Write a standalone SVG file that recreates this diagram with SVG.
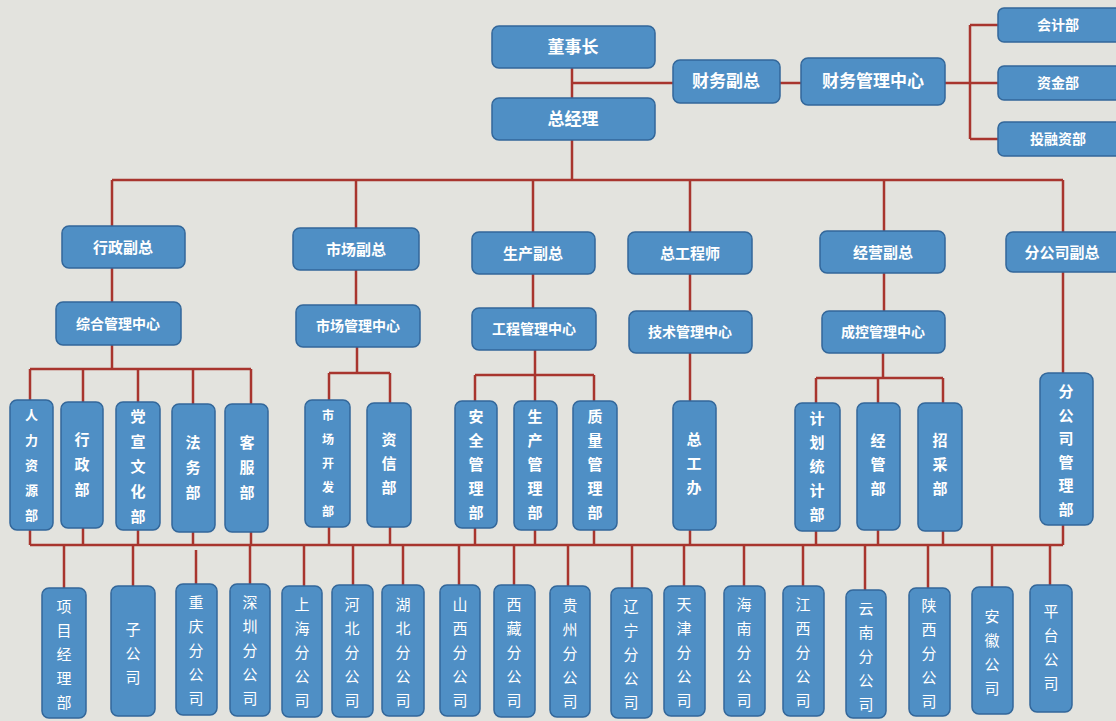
<svg xmlns="http://www.w3.org/2000/svg" width="1116" height="721" viewBox="0 0 1116 721">
<style>
.b{fill:#4f8fc5;stroke:#33679a;stroke-width:1.5}
.t{fill:#ffffff;font-family:"Noto Sans CJK SC","Noto Sans",sans-serif;font-weight:bold;text-anchor:middle}
.h{font-size:17px}
.m{font-size:15px}
.s{font-size:14px}
.v{font-size:13px}
.w{font-size:15px;font-weight:normal}
.c{fill:none;stroke:#a8352e;stroke-width:2.5}
</style>
<rect width="1116" height="721" fill="#e3e3de"/>
<g id="connectors" class="c">
<path d="M572 68V98M572 140V180M572 83H673M780 83H801M945 83H970M970 25V139M970 25H998M970 83H998M970 139H998"/>
<path d="M112 180H1063M112 180V226M356 180V228M533 180V232M690 180V232M884 180V231M1063 180V232"/>
<path d="M112 268V302M356 270V305M533 274V308M690 274V311M884 273V311M1063 272V373"/>
<path d="M112 345V369M30 369H251M30 369V400M83 369V402M138 369V402M193 369V404M251 369V404"/>
<path d="M357 347V373M329 373H390M329 373V400M390 373V403"/>
<path d="M535 350V375M475 375H594M475 375V401M535 375V401M594 375V401"/>
<path d="M690 353V401"/>
<path d="M883 353V378M816 378H943M816 378V403M878 378V403M943 378V403"/>
<path d="M30 545H1063M30 530V545M83 528V545M138 530V545M193 532V545M251 532V545M329 527V545M390 527V545M475 528V545M535 530V545M594 530V545M690 530V545M816 531V545M878 530V545M943 531V545M1063 525V545"/>
<path d="M64 545V588M133 545V586M196 550V584M250 545V584M304 545V586M353 545V585M403 545V585M459 545V585M514 545V585M568 545V586M632 545V588M684 545V586M744 545V586M803 545V586M865 545V590M928 545V588M992 545V587M1050 545V585"/>
</g>
<g id="dongshizhang"><rect class="b" x="492" y="26" width="163" height="42" rx="7"/><text class="t h" x="573" y="53">董事长</text></g>
<g id="zongjingli"><rect class="b" x="492" y="98" width="163" height="42" rx="7"/><text class="t h" x="573" y="125">总经理</text></g>
<g id="caiwufuzong"><rect class="b" x="673" y="60" width="107" height="43" rx="7"/><text class="t h" x="726" y="87">财务副总</text></g>
<g id="caiwuguanli"><rect class="b" x="801" y="58" width="144" height="47" rx="7"/><text class="t h" x="873" y="87">财务管理中心</text></g>
<g id="kuaiji"><rect class="b" x="998" y="8" width="125" height="34" rx="6"/><text class="t s" x="1058" y="30">会计部</text></g>
<g id="zijin"><rect class="b" x="998" y="66" width="125" height="34" rx="6"/><text class="t s" x="1058" y="88">资金部</text></g>
<g id="tourongzi"><rect class="b" x="998" y="122" width="125" height="34" rx="6"/><text class="t s" x="1058" y="144">投融资部</text></g>

<g id="xingzhengfuzong"><rect class="b" x="62" y="226" width="123" height="42" rx="7"/><text class="t m" x="123" y="253">行政副总</text></g>
<g id="shichangfuzong"><rect class="b" x="293" y="228" width="126" height="42" rx="7"/><text class="t m" x="356" y="255">市场副总</text></g>
<g id="shengchanfuzong"><rect class="b" x="472" y="232" width="123" height="42" rx="7"/><text class="t m" x="533" y="259">生产副总</text></g>
<g id="zonggongchengshi"><rect class="b" x="628" y="232" width="124" height="42" rx="7"/><text class="t m" x="690" y="259">总工程师</text></g>
<g id="jingyingfuzong"><rect class="b" x="820" y="231" width="125" height="42" rx="7"/><text class="t m" x="883" y="258">经营副总</text></g>
<g id="fengongsifuzong"><rect class="b" x="1006" y="232" width="118" height="40" rx="7"/><text class="t m" x="1062" y="258">分公司副总</text></g>

<g id="zonghe"><rect class="b" x="56" y="302" width="125" height="43" rx="7"/><text class="t s" x="118" y="329">综合管理中心</text></g>
<g id="shichangguanli"><rect class="b" x="296" y="305" width="124" height="42" rx="7"/><text class="t s" x="358" y="331">市场管理中心</text></g>
<g id="gongcheng"><rect class="b" x="472" y="308" width="124" height="42" rx="7"/><text class="t s" x="534" y="334">工程管理中心</text></g>
<g id="jishu"><rect class="b" x="629" y="311" width="123" height="42" rx="7"/><text class="t s" x="690" y="337">技术管理中心</text></g>
<g id="chengkong"><rect class="b" x="822" y="311" width="123" height="42" rx="7"/><text class="t s" x="883" y="337">成控管理中心</text></g>

<g id="renli"><rect class="b" x="10" y="400" width="43" height="130" rx="7"/><text class="t v" x="31.5" y="420"><tspan x="31.5" dy="0">人</tspan><tspan x="31.5" dy="25">力</tspan><tspan x="31.5" dy="25">资</tspan><tspan x="31.5" dy="25">源</tspan><tspan x="31.5" dy="25">部</tspan></text></g>
<g id="xingzhengbu"><rect class="b" x="61" y="402" width="42" height="126" rx="7"/><text class="t m" x="82" y="445"><tspan x="82" dy="0">行</tspan><tspan x="82" dy="25">政</tspan><tspan x="82" dy="25">部</tspan></text></g>
<g id="dangxuan"><rect class="b" x="116" y="402" width="44" height="128" rx="7"/><text class="t m" x="138" y="422"><tspan x="138" dy="0">党</tspan><tspan x="138" dy="25">宣</tspan><tspan x="138" dy="25">文</tspan><tspan x="138" dy="25">化</tspan><tspan x="138" dy="25">部</tspan></text></g>
<g id="fawu"><rect class="b" x="172" y="404" width="43" height="128" rx="7"/><text class="t m" x="193" y="448"><tspan x="193" dy="0">法</tspan><tspan x="193" dy="25">务</tspan><tspan x="193" dy="25">部</tspan></text></g>
<g id="kefu"><rect class="b" x="225" y="404" width="43" height="128" rx="7"/><text class="t m" x="247" y="448"><tspan x="247" dy="0">客</tspan><tspan x="247" dy="25">服</tspan><tspan x="247" dy="25">部</tspan></text></g>

<g id="shichangkaifa"><rect class="b" x="305" y="400" width="45" height="127" rx="7"/><text class="t" style="font-size:12px" x="328" y="420"><tspan x="328" dy="0">市</tspan><tspan x="328" dy="24">场</tspan><tspan x="328" dy="24">开</tspan><tspan x="328" dy="24">发</tspan><tspan x="328" dy="24">部</tspan></text></g>
<g id="zixin"><rect class="b" x="367" y="403" width="44" height="124" rx="7"/><text class="t m" x="389" y="445"><tspan x="389" dy="0">资</tspan><tspan x="389" dy="24">信</tspan><tspan x="389" dy="24">部</tspan></text></g>

<g id="anquan"><rect class="b" x="455" y="401" width="42" height="127" rx="7"/><text class="t m" x="476" y="422"><tspan x="476" dy="0">安</tspan><tspan x="476" dy="24">全</tspan><tspan x="476" dy="24">管</tspan><tspan x="476" dy="24">理</tspan><tspan x="476" dy="24">部</tspan></text></g>
<g id="shengchanguanli"><rect class="b" x="514" y="401" width="43" height="129" rx="7"/><text class="t m" x="535" y="422"><tspan x="535" dy="0">生</tspan><tspan x="535" dy="24">产</tspan><tspan x="535" dy="24">管</tspan><tspan x="535" dy="24">理</tspan><tspan x="535" dy="24">部</tspan></text></g>
<g id="zhiliang"><rect class="b" x="573" y="401" width="44" height="129" rx="7"/><text class="t m" x="595" y="422"><tspan x="595" dy="0">质</tspan><tspan x="595" dy="24">量</tspan><tspan x="595" dy="24">管</tspan><tspan x="595" dy="24">理</tspan><tspan x="595" dy="24">部</tspan></text></g>

<g id="zonggongban"><rect class="b" x="673" y="401" width="43" height="129" rx="7"/><text class="t m" x="694" y="445"><tspan x="694" dy="0">总</tspan><tspan x="694" dy="24">工</tspan><tspan x="694" dy="24">办</tspan></text></g>

<g id="jihuatongji"><rect class="b" x="795" y="403" width="45" height="128" rx="7"/><text class="t m" x="817" y="424"><tspan x="817" dy="0">计</tspan><tspan x="817" dy="24">划</tspan><tspan x="817" dy="24">统</tspan><tspan x="817" dy="24">计</tspan><tspan x="817" dy="24">部</tspan></text></g>
<g id="jingguan"><rect class="b" x="857" y="403" width="43" height="127" rx="7"/><text class="t m" x="878" y="446"><tspan x="878" dy="0">经</tspan><tspan x="878" dy="24">管</tspan><tspan x="878" dy="24">部</tspan></text></g>
<g id="zhaocai"><rect class="b" x="918" y="403" width="44" height="128" rx="7"/><text class="t m" x="940" y="446"><tspan x="940" dy="0">招</tspan><tspan x="940" dy="24">采</tspan><tspan x="940" dy="24">部</tspan></text></g>

<g id="fengongsiguanli"><rect class="b" x="1040" y="373" width="53" height="152" rx="8"/><text class="t m" x="1066" y="397"><tspan x="1066" dy="0">分</tspan><tspan x="1066" dy="23.5">公</tspan><tspan x="1066" dy="23.5">司</tspan><tspan x="1066" dy="23.5">管</tspan><tspan x="1066" dy="23.5">理</tspan><tspan x="1066" dy="23.5">部</tspan></text></g>

<g id="xiangmu"><rect class="b" x="42" y="588" width="44" height="130" rx="7"/><text class="t w" x="64" y="612"><tspan x="64" dy="0">项</tspan><tspan x="64" dy="24">目</tspan><tspan x="64" dy="24">经</tspan><tspan x="64" dy="24">理</tspan><tspan x="64" dy="24">部</tspan></text></g>
<g id="zigongsi"><rect class="b" x="111" y="586" width="44" height="130" rx="7"/><text class="t w" x="133" y="635"><tspan x="133" dy="0">子</tspan><tspan x="133" dy="24">公</tspan><tspan x="133" dy="24">司</tspan></text></g>
<g id="chongqing"><rect class="b" x="176" y="584" width="41" height="131" rx="7"/><text class="t w" x="196" y="608"><tspan x="196" dy="0">重</tspan><tspan x="196" dy="24">庆</tspan><tspan x="196" dy="24">分</tspan><tspan x="196" dy="24">公</tspan><tspan x="196" dy="24">司</tspan></text></g>
<g id="shenzhen"><rect class="b" x="230" y="584" width="40" height="132" rx="7"/><text class="t w" x="250" y="608"><tspan x="250" dy="0">深</tspan><tspan x="250" dy="24">圳</tspan><tspan x="250" dy="24">分</tspan><tspan x="250" dy="24">公</tspan><tspan x="250" dy="24">司</tspan></text></g>
<g id="shanghai"><rect class="b" x="282" y="586" width="40" height="131" rx="7"/><text class="t w" x="302" y="610"><tspan x="302" dy="0">上</tspan><tspan x="302" dy="24">海</tspan><tspan x="302" dy="24">分</tspan><tspan x="302" dy="24">公</tspan><tspan x="302" dy="24">司</tspan></text></g>
<g id="hebei"><rect class="b" x="332" y="585" width="41" height="132" rx="7"/><text class="t w" x="352" y="610"><tspan x="352" dy="0">河</tspan><tspan x="352" dy="24">北</tspan><tspan x="352" dy="24">分</tspan><tspan x="352" dy="24">公</tspan><tspan x="352" dy="24">司</tspan></text></g>
<g id="hubei"><rect class="b" x="382" y="585" width="42" height="131" rx="7"/><text class="t w" x="403" y="610"><tspan x="403" dy="0">湖</tspan><tspan x="403" dy="24">北</tspan><tspan x="403" dy="24">分</tspan><tspan x="403" dy="24">公</tspan><tspan x="403" dy="24">司</tspan></text></g>
<g id="shanxi"><rect class="b" x="440" y="585" width="40" height="131" rx="7"/><text class="t w" x="460" y="610"><tspan x="460" dy="0">山</tspan><tspan x="460" dy="24">西</tspan><tspan x="460" dy="24">分</tspan><tspan x="460" dy="24">公</tspan><tspan x="460" dy="24">司</tspan></text></g>
<g id="xizang"><rect class="b" x="494" y="585" width="41" height="132" rx="7"/><text class="t w" x="514" y="610"><tspan x="514" dy="0">西</tspan><tspan x="514" dy="24">藏</tspan><tspan x="514" dy="24">分</tspan><tspan x="514" dy="24">公</tspan><tspan x="514" dy="24">司</tspan></text></g>
<g id="guizhou"><rect class="b" x="550" y="586" width="40" height="131" rx="7"/><text class="t w" x="570" y="611"><tspan x="570" dy="0">贵</tspan><tspan x="570" dy="24">州</tspan><tspan x="570" dy="24">分</tspan><tspan x="570" dy="24">公</tspan><tspan x="570" dy="24">司</tspan></text></g>
<g id="liaoning"><rect class="b" x="611" y="588" width="41" height="130" rx="7"/><text class="t w" x="631" y="612"><tspan x="631" dy="0">辽</tspan><tspan x="631" dy="24">宁</tspan><tspan x="631" dy="24">分</tspan><tspan x="631" dy="24">公</tspan><tspan x="631" dy="24">司</tspan></text></g>
<g id="tianjin"><rect class="b" x="664" y="586" width="41" height="130" rx="7"/><text class="t w" x="684" y="610"><tspan x="684" dy="0">天</tspan><tspan x="684" dy="24">津</tspan><tspan x="684" dy="24">分</tspan><tspan x="684" dy="24">公</tspan><tspan x="684" dy="24">司</tspan></text></g>
<g id="hainan"><rect class="b" x="724" y="586" width="41" height="130" rx="7"/><text class="t w" x="744" y="610"><tspan x="744" dy="0">海</tspan><tspan x="744" dy="24">南</tspan><tspan x="744" dy="24">分</tspan><tspan x="744" dy="24">公</tspan><tspan x="744" dy="24">司</tspan></text></g>
<g id="jiangxi"><rect class="b" x="783" y="586" width="41" height="130" rx="7"/><text class="t w" x="803" y="610"><tspan x="803" dy="0">江</tspan><tspan x="803" dy="24">西</tspan><tspan x="803" dy="24">分</tspan><tspan x="803" dy="24">公</tspan><tspan x="803" dy="24">司</tspan></text></g>
<g id="yunnan"><rect class="b" x="846" y="590" width="40" height="128" rx="7"/><text class="t w" x="866" y="614"><tspan x="866" dy="0">云</tspan><tspan x="866" dy="24">南</tspan><tspan x="866" dy="24">分</tspan><tspan x="866" dy="24">公</tspan><tspan x="866" dy="24">司</tspan></text></g>
<g id="shaanxi"><rect class="b" x="909" y="588" width="41" height="128" rx="7"/><text class="t w" x="929" y="611"><tspan x="929" dy="0">陕</tspan><tspan x="929" dy="24">西</tspan><tspan x="929" dy="24">分</tspan><tspan x="929" dy="24">公</tspan><tspan x="929" dy="24">司</tspan></text></g>
<g id="anhui"><rect class="b" x="972" y="587" width="41" height="127" rx="7"/><text class="t w" x="992" y="622"><tspan x="992" dy="0">安</tspan><tspan x="992" dy="24">徽</tspan><tspan x="992" dy="24">公</tspan><tspan x="992" dy="24">司</tspan></text></g>
<g id="pingtai"><rect class="b" x="1030" y="585" width="42" height="127" rx="7"/><text class="t w" x="1051" y="617"><tspan x="1051" dy="0">平</tspan><tspan x="1051" dy="24">台</tspan><tspan x="1051" dy="24">公</tspan><tspan x="1051" dy="24">司</tspan></text></g>
</svg>
